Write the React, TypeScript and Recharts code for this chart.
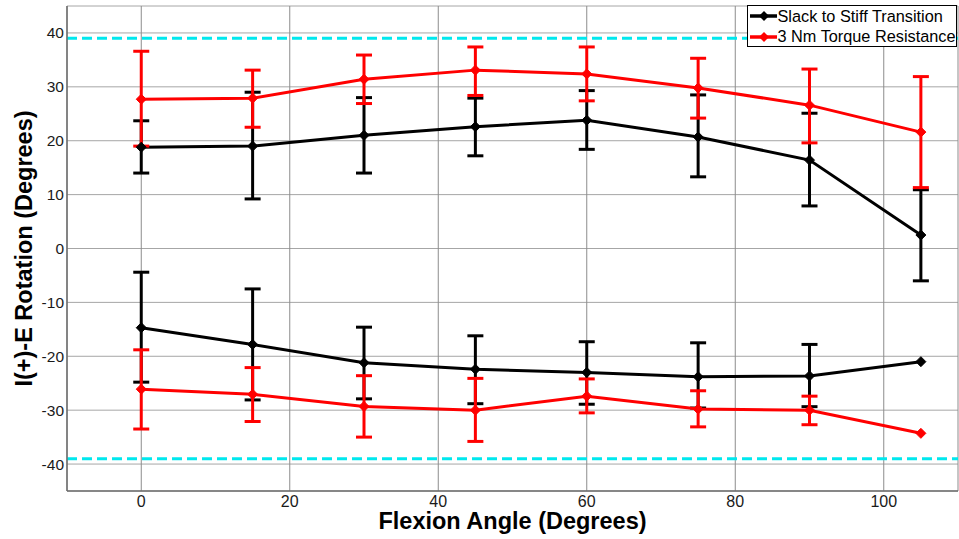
import React from 'react';
import { LineChart, Line, XAxis, YAxis, CartesianGrid, ErrorBar, ReferenceLine, Legend } from 'recharts';

const angles = [0, 15, 30, 45, 60, 75, 90, 105];

const slackUpperMean = [18.8, 19.0, 21.0, 22.6, 23.8, 20.7, 16.4, 2.5];
const slackUpperHigh = [23.7, 29.0, 28.0, 27.9, 29.3, 28.5, 25.1, 10.9];
const slackUpperLow = [14.0, 9.2, 14.0, 17.2, 18.4, 13.3, 7.9, -6.0];

const torqueUpperMean = [27.7, 27.9, 31.4, 33.1, 32.4, 29.8, 26.6, 21.6];
const torqueUpperHigh = [36.6, 33.1, 35.9, 37.4, 37.4, 35.3, 33.3, 31.9];
const torqueUpperLow = [19.0, 22.5, 26.9, 28.4, 27.4, 24.2, 19.6, 11.3];

const slackLowerMean = [-14.7, -17.8, -21.2, -22.4, -23.0, -23.8, -23.65, -21.0];
const slackLowerHigh = [-4.4, -7.5, -14.6, -16.2, -17.3, -17.5, -17.8, null];
const slackLowerLow = [-24.8, -28.1, -27.9, -28.8, -28.9, -29.6, -29.35, null];

const torqueLowerMean = [-26.1, -27.05, -29.3, -30.0, -27.4, -29.8, -30.0, -34.3];
const torqueLowerHigh = [-18.8, -22.1, -23.6, -24.1, -24.2, -26.4, -27.4, null];
const torqueLowerLow = [-33.5, -32.1, -35.0, -35.8, -30.5, -33.1, -32.7, null];

const xTicks = [0, 20, 40, 60, 80, 100];
const yTicks = [-40, -30, -20, -10, 0, 10, 20, 30, 40];
const limitLines = [39, -39];

const legendItems = [
  { name: 'Slack to Stiff Transition', color: '#000000' },
  { name: '3 Nm Torque Resistance', color: '#ff0000' },
];

const xLabel = 'Flexion Angle (Degrees)';
const yLabel = 'I(+)-E Rotation (Degrees)';

const FONT = '"Liberation Sans", Arial, Helvetica, sans-serif';

function errPair(mean: number, low: number | null, high: number | null) {
  if (low == null || high == null) return undefined;
  return [mean - low, high - mean];
}

const data = angles.map((a, i) => ({
  angle: a,
  slackUp: slackUpperMean[i],
  slackUpErr: errPair(slackUpperMean[i], slackUpperLow[i], slackUpperHigh[i]),
  slackLo: slackLowerMean[i],
  slackLoErr: errPair(slackLowerMean[i], slackLowerLow[i], slackLowerHigh[i]),
  torqUp: torqueUpperMean[i],
  torqUpErr: errPair(torqueUpperMean[i], torqueUpperLow[i], torqueUpperHigh[i]),
  torqLo: torqueLowerMean[i],
  torqLoErr: errPair(torqueLowerMean[i], torqueLowerLow[i], torqueLowerHigh[i]),
}));

const makeDiamond = (color: string) => (props: any) => {
  const { cx, cy, index } = props;
  if (cx == null || cy == null) return <g key={`d-${index}`} />;
  const r = 5;
  return (
    <path
      key={`d-${color}-${index}`}
      d={`M${cx},${cy - r}L${cx + r},${cy}L${cx},${cy + r}L${cx - r},${cy}Z`}
      fill={color}
      stroke={color}
      strokeWidth={1}
    />
  );
};

const series = [
  { key: 'slackUp', err: 'slackUpErr', color: '#000000' },
  { key: 'slackLo', err: 'slackLoErr', color: '#000000' },
  { key: 'torqUp', err: 'torqUpErr', color: '#ff0000' },
  { key: 'torqLo', err: 'torqLoErr', color: '#ff0000' },
];

const LegendBox = () => (
  <div
    style={{
      width: 208,
      height: 40,
      border: '1.5px solid #000',
      background: '#fff',
      fontFamily: FONT,
      fontSize: 16.3,
      color: '#000',
      boxSizing: 'content-box',
    }}
  >
    {legendItems.map((it) => (
      <div key={it.name} style={{ display: 'flex', alignItems: 'center', height: 20.5, whiteSpace: 'nowrap' }}>
        <svg width={28} height={14} style={{ marginLeft: 1.5, flex: 'none' }}>
          <line x1={0} y1={7} x2={27} y2={7} stroke={it.color} strokeWidth={3.5} />
          <path d="M14,2L19,7L14,12L9,7Z" fill={it.color} />
        </svg>
        <span>{it.name}</span>
      </div>
    ))}
  </div>
);

const YAxisLabel = (props: any) => {
  const vb = props.viewBox || {};
  const x = (vb.x || 0) + 32;
  const y = (vb.y || 0) + (vb.height || 0) / 2;
  return (
    <text
      x={x}
      y={y}
      transform={`rotate(-90 ${x} ${y})`}
      textAnchor="middle"
      style={{ fontFamily: FONT, fontWeight: 'bold', fontSize: 23.5 }}
      fill="#000"
    >
      {yLabel}
    </text>
  );
};

const XAxisLabel = (props: any) => {
  const vb = props.viewBox || {};
  const x = (vb.x || 0) + (vb.width || 0) / 2;
  const y = (vb.y || 0) + 38;
  return (
    <text x={x} y={y} textAnchor="middle" style={{ fontFamily: FONT, fontWeight: 'bold', fontSize: 23.5 }} fill="#000">
      {xLabel}
    </text>
  );
};

export default function App() {
  return (
    <div style={{ position: 'absolute', left: 0, top: 0, width: 959, height: 539, background: '#fff' }}>
      <LineChart width={959} height={539} data={data} margin={{ top: 6, right: 1, bottom: 0, left: 0 }}>
        <CartesianGrid horizontal={true} vertical={false} stroke="#a6a6a6" strokeWidth={1} />
        <CartesianGrid horizontal={false} vertical={true} stroke="#8c8c8c" strokeWidth={1} />
        <XAxis
          dataKey="angle"
          type="number"
          domain={[-10, 110]}
          ticks={xTicks}
          allowDataOverflow
          height={48}
          tickLine={false}
          tickSize={4}
          tickMargin={1}
          axisLine={{ stroke: '#6e6e6e', strokeWidth: 1.5 }}
          tick={{ fill: '#1a1a1a', fontSize: 16, fontFamily: FONT }}
          label={<XAxisLabel />}
        />
        <YAxis
          type="number"
          domain={[-45, 45]}
          ticks={yTicks}
          allowDataOverflow
          width={67}
          tickLine={false}
          tickSize={2}
          tickMargin={1}
          axisLine={{ stroke: '#6e6e6e', strokeWidth: 1.5 }}
          tick={{ fill: '#1a1a1a', fontSize: 15.5, fontFamily: FONT }}
          label={<YAxisLabel />}
        />
        {limitLines.map((v) => (
          <ReferenceLine key={v} y={v} stroke="#00e8ee" strokeWidth={3} strokeDasharray="10 5" />
        ))}
        {series.map((s) => (
          <Line
            key={s.key}
            dataKey={s.key}
            stroke={s.color}
            strokeWidth={3}
            dot={makeDiamond(s.color)}
            activeDot={false}
            isAnimationActive={false}
            legendType="none"
          >
            <ErrorBar
              dataKey={s.err}
              width={8}
              strokeWidth={3}
              stroke={s.color}
              direction="y"
              isAnimationActive={false}
            />
          </Line>
        ))}
        <Legend
          layout="horizontal"
          verticalAlign="middle"
          align="center"
          wrapperStyle={{ left: 747, top: 5, width: 'auto', height: 'auto' }}
          content={() => <LegendBox />}
        />
      </LineChart>
    </div>
  );
}
